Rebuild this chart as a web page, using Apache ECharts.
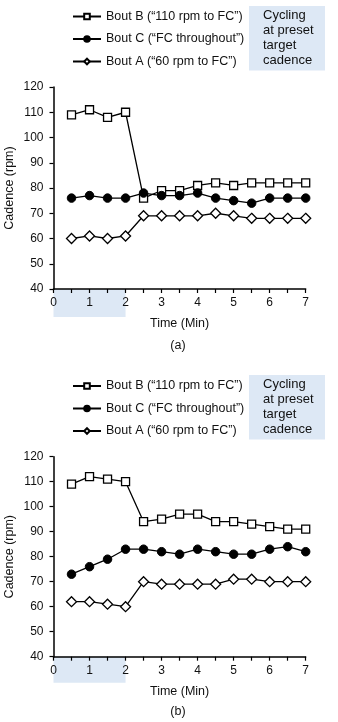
<!DOCTYPE html>
<html>
<head>
<meta charset="utf-8">
<script src="https://cdn.jsdelivr.net/npm/echarts@6/dist/echarts.min.js"></script>
<style>html,body{margin:0;padding:0;background:#fff;}#c{width:338px;height:722px;}</style>
</head>
<body>
<div id="c"></div>
<script>
const timeMin = [0.5, 1, 1.5, 2, 2.5, 3, 3.5, 4, 4.5, 5, 5.5, 6, 6.5, 7];
const seriesNames = ['Bout B (\u201c110 rpm to FC\u201d)', 'Bout C (\u201cFC throughout\u201d)', 'Bout A (\u201c60 rpm to FC\u201d)'];
// Panel (a)
const boutB_a = [109, 111, 108, 110, 76, 79, 79, 81, 82, 81, 82, 82, 82, 82];
const boutC_a = [76, 77, 76, 76, 78, 77, 77, 78, 76, 75, 74, 76, 76, 76];
const boutA_a = [60, 61, 60, 61, 69, 69, 69, 69, 70, 69, 68, 68, 68, 68];
// Panel (b)
const boutB_b = [109, 112, 111, 110, 94, 95, 97, 97, 94, 94, 93, 92, 91, 91];
const boutC_b = [73, 76, 79, 83, 83, 82, 81, 83, 82, 81, 81, 83, 84, 82];
const boutA_b = [62, 62, 61, 60, 70, 69, 69, 69, 69, 71, 71, 70, 70, 70];
const presetRange = [0, 2];
const boxLines = ['Cycling', 'at preset', 'target', 'cadence'];
const panelLabels = ['(a)', '(b)'];

const FONT = 'Liberation Sans, Arial, sans-serif';
const chart = echarts.init(document.getElementById('c'), null, {renderer: 'canvas'});

const grids = [
  {left: 53.5, width: 252.2, top: 87, height: 202, outerBoundsMode: 'none', containLabel: false},
  {left: 53.5, width: 252.2, top: 456.7, height: 200, outerBoundsMode: 'none', containLabel: false}
];

function xAxis(gi) {
  return {
    type: 'value', gridIndex: gi, min: 0, max: 7, interval: 1,
    name: 'Time (Min)', nameLocation: 'middle', nameGap: 28, nameMoveOverlap: false,
    nameTextStyle: {fontFamily: FONT, fontSize: 12.5, color: '#111'},
    axisLine: {onZero: false, lineStyle: {color: '#000', width: 1.5}},
    axisTick: {show: true, inside: false, length: 4, lineStyle: {color: '#000', width: 1.2}},
    minorTick: {show: true, splitNumber: 2, length: 4, lineStyle: {color: '#000', width: 1.2}},
    axisLabel: {fontFamily: FONT, fontSize: 12, color: '#111', margin: 8},
    splitLine: {show: false}, minorSplitLine: {show: false}
  };
}
function yAxis(gi) {
  return {
    type: 'value', gridIndex: gi, min: 40, max: 120, interval: 10,
    name: 'Cadence (rpm)', nameLocation: 'middle', nameGap: 37, nameRotate: 90, nameMoveOverlap: false,
    nameTextStyle: {fontFamily: FONT, fontSize: 12.5, color: '#111'},
    axisLine: {show: true, onZero: false, lineStyle: {color: '#000', width: 1.5}},
    axisTick: {show: true, inside: false, length: 4, lineStyle: {color: '#000', width: 1.2}},
    axisLabel: {fontFamily: FONT, fontSize: 12, color: '#111', margin: 10},
    splitLine: {show: false}
  };
}
function toPts(arr) { return timeMin.map((t, i) => [t, arr[i]]); }

const styles = [
  {symbol: 'rect', symbolSize: 8, itemStyle: {color: '#fff', borderColor: '#000', borderWidth: 1.3}},
  {symbol: 'circle', symbolSize: 8.5, itemStyle: {color: '#000', borderColor: '#000', borderWidth: 1}},
  {symbol: 'diamond', symbolSize: 10, itemStyle: {color: '#fff', borderColor: '#000', borderWidth: 1.3}}
];
const dataSets = [[boutB_a, boutC_a, boutA_a], [boutB_b, boutC_b, boutA_b]];

const series = [];
dataSets.forEach((sets, gi) => {
  sets.forEach((arr, si) => {
    series.push(Object.assign({
      type: 'line', name: seriesNames[si], xAxisIndex: gi, yAxisIndex: gi,
      data: toPts(arr), showSymbol: true, animation: false,
      lineStyle: {color: '#000', width: 1.3}, z: 3
    }, styles[si]));
  });
});

function legend(top) {
  return {
    orient: 'vertical', left: 72, top: top, itemGap: 9.5, itemWidth: 28, itemHeight: 7,
    padding: 0, selectedMode: false, data: seriesNames,
    textStyle: {fontFamily: FONT, fontSize: 12.5, color: '#111'}
  };
}

chart.setOption({
  animation: false,
  backgroundColor: '#fff',
  grid: grids,
  xAxis: [xAxis(0), xAxis(1)],
  yAxis: [yAxis(0), yAxis(1)],
  legend: [legend(10), legend(379.5)],
  series: series
});

// annotations
const boxTops = [6, 375];
const bandHeights = [28, 26];
const labelY = [345.7, 711.7];
const graphics = [];
[0, 1].forEach(gi => {
  graphics.push({type: 'rect', shape: {x: 249, y: boxTops[gi], width: 76, height: 64.5}, style: {fill: '#dde8f5'}, z: 0});
  graphics.push({type: 'text', x: 263, y: boxTops[gi] + 2.2, style: {text: boxLines.join('\n'), fontFamily: FONT, fontSize: 13, lineHeight: 15, fill: '#111'}, z: 5});
  const p0 = chart.convertToPixel({xAxisIndex: gi, yAxisIndex: gi}, [presetRange[0], 40]);
  const p1 = chart.convertToPixel({xAxisIndex: gi, yAxisIndex: gi}, [presetRange[1], 40]);
  graphics.push({type: 'rect', shape: {x: p0[0], y: p0[1], width: p1[0] - p0[0], height: bandHeights[gi]}, style: {fill: '#dde8f5'}, z: -10, zlevel: 0});
  graphics.push({type: 'text', x: 178, y: labelY[gi], style: {text: panelLabels[gi], fontFamily: FONT, fontSize: 12.5, fill: '#111', align: 'center', verticalAlign: 'middle'}, z: 5});
});
chart.setOption({graphic: graphics});
</script>
</body>
</html>
